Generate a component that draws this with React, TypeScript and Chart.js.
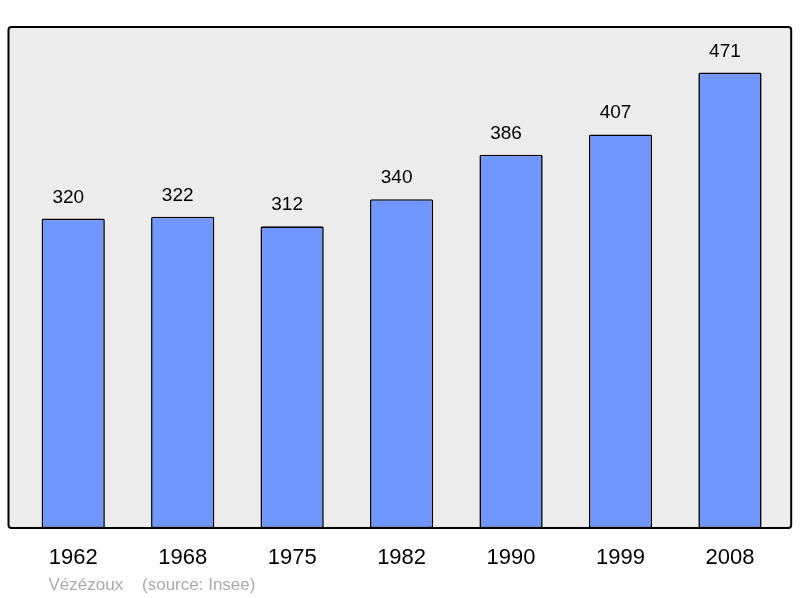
import React, { useEffect, useRef } from "react";
import { Chart, registerables } from "chart.js";

Chart.register(...registerables);

const years = ["1962", "1968", "1975", "1982", "1990", "1999", "2008"];
const population = [320, 322, 312, 340, 386, 407, 471];
const footerText = "Vézézoux    (source: Insee)";

const FONT = "'Liberation Sans', Arial, sans-serif";

const framePlugin = {
  id: "frame",
  beforeDraw(chart: any) {
    const { ctx, chartArea } = chart;
    const l = chartArea.left - 10;
    const r = chartArea.right + 6.5;
    const t = chartArea.top;
    const b = chartArea.bottom;
    ctx.save();
    ctx.beginPath();
    if (ctx.roundRect) ctx.roundRect(l, t, r - l, b - t, 3);
    else ctx.rect(l, t, r - l, b - t);
    ctx.fillStyle = "#ececec";
    ctx.fill();
    ctx.restore();
  },
  afterDatasetsDraw(chart: any) {
    const { ctx, chartArea } = chart;
    const l = chartArea.left - 10;
    const r = chartArea.right + 6.5;
    const t = chartArea.top;
    const b = chartArea.bottom;
    ctx.save();
    ctx.beginPath();
    if (ctx.roundRect) ctx.roundRect(l, t, r - l, b - t, 3);
    else ctx.rect(l, t, r - l, b - t);
    ctx.lineWidth = 2;
    ctx.strokeStyle = "#000";
    ctx.stroke();

    // value labels
    const meta = chart.getDatasetMeta(0);
    ctx.fillStyle = "#000";
    ctx.font = `19px ${FONT}`;
    ctx.textAlign = "center";
    ctx.textBaseline = "alphabetic";
    meta.data.forEach((bar: any, i: number) => {
      ctx.fillText(String(population[i]), bar.x - 5, bar.y - 16);
    });

    // footer
    ctx.fillStyle = "#ababab";
    ctx.font = `17px ${FONT}`;
    ctx.textAlign = "left";
    ctx.fillText(footerText, l + 40, b + 62);
    ctx.restore();
  },
};

export default function App() {
  const ref = useRef<HTMLCanvasElement>(null);
  useEffect(() => {
    if (!ref.current) return;
    const maxVal = Math.max(...population) * 1.1;
    const chart = new Chart(ref.current, {
      type: "bar",
      data: {
        labels: years,
        datasets: [
          {
            data: population,
            backgroundColor: "#7097ff",
            borderColor: "#000",
            borderWidth: 1.6,
            borderSkipped: false,
            borderRadius: 1.5,
            categoryPercentage: 1,
            barPercentage: 0.578,
          },
        ],
      },
      options: {
        animation: false,
        responsive: false,
        layout: { padding: { left: 18.5, right: 15.3, top: 27, bottom: 0 } },
        plugins: { legend: { display: false }, tooltip: { enabled: false } },
        scales: {
          x: {
            grid: { display: false },
            border: { display: false },
            ticks: { color: "#000", font: { size: 22, family: FONT }, padding: 9 },
            afterFit: (s: any) => {
              s.height = 70;
            },
          },
          y: { display: false, min: 0, max: maxVal },
        },
      },
      plugins: [framePlugin],
    });
    return () => chart.destroy();
  }, []);
  return (
    <canvas
      ref={ref}
      width={800}
      height={598}
      style={{ position: "absolute", left: 0, top: 0, width: 800, height: 598 }}
    />
  );
}
